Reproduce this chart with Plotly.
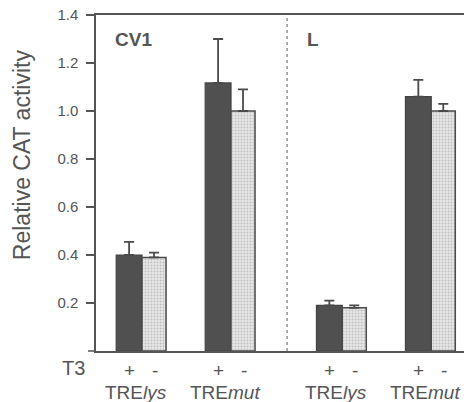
import plotly.graph_objects as go

# ---- data ----
panels = ["CV1", "L"]
constructs = ["TRE<i>lys</i>", "TRE<i>mut</i>", "TRE<i>lys</i>", "TRE<i>mut</i>"]
t3_plus = [0.40, 1.117, 0.19, 1.06]
t3_plus_err = [0.055, 0.183, 0.02, 0.07]
t3_minus = [0.39, 1.00, 0.18, 1.00]
t3_minus_err = [0.02, 0.09, 0.01, 0.03]
y_ticks = [0.2, 0.4, 0.6, 0.8, 1.0, 1.2, 1.4]
y_tick_labels = ["0.2", "0.4", "0.6", "0.8", "1.0", "1.2", "1.4"]

# ---- layout constants ----
pos = [1, 2, 3.25, 4.25]
panel_label_x = [0.046, 0.568]
bw = 0.29
grey = "#555555"
font = "Liberation Sans, Arial, sans-serif"

fig = go.Figure()
fig.add_trace(go.Bar(
    x=pos, y=t3_plus, width=[bw] * 4, offset=-bw,
    marker=dict(color="#505050", line=dict(color="#444444", width=1.2)),
    error_y=dict(type="data", array=t3_plus_err, arrayminus=[0] * 4, symmetric=False,
                 color="#4a4a4a", thickness=1.8, width=5),
    showlegend=False,
))
fig.add_trace(go.Bar(
    x=pos, y=t3_minus, width=[bw - 0.02] * 4, offset=0,
    marker=dict(color="#e6e6e6", line=dict(color="#4a4a4a", width=1.5),
                pattern=dict(shape=".", fgcolor="#9a9a9a", bgcolor="#e6e6e6", size=3, solidity=0.35)),
    error_y=dict(type="data", array=t3_minus_err, arrayminus=[0] * 4, symmetric=False,
                 color="#4a4a4a", thickness=1.8, width=5),
    showlegend=False,
))


def ann(**kw):
    d = dict(showarrow=False, xanchor="center", yanchor="middle")
    d.update(kw)
    return d


annotations = []
for p, px in zip(panels, panel_label_x):
    annotations.append(ann(x=px, y=1.296, xref="paper", yref="y", text="<b>%s</b>" % p,
                           xanchor="left", font=dict(family=font, size=19, color=grey)))
for c, x in zip(constructs, pos):
    annotations.append(ann(x=x - bw / 2, y=-0.058, xref="x", yref="paper", text="+",
                           font=dict(family=font, size=19, color=grey)))
    annotations.append(ann(x=x + bw / 2, y=-0.058, xref="x", yref="paper", text="-",
                           font=dict(family=font, size=19, color=grey)))
    annotations.append(ann(x=x - 0.065, y=-0.124, xref="x", yref="paper", text=c,
                           font=dict(family=font, size=19, color=grey)))
annotations.append(ann(x=-0.0245, y=-0.05, xref="paper", yref="paper", text="T3",
                       xanchor="right", font=dict(family=font, size=20, color=grey)))
annotations.append(ann(x=-0.201, y=0.583, xref="paper", yref="paper", text="Relative CAT activity",
                       textangle=-90, font=dict(family=font, size=23, color=grey)))

fig.update_layout(
    width=464, height=402,
    margin=dict(l=96, r=0, t=15, b=51),
    paper_bgcolor="white", plot_bgcolor="white",
    barmode="overlay",
    annotations=annotations,
    shapes=[
        dict(type="line", xref="x", yref="paper", x0=2.63, x1=2.63, y0=0, y1=1,
             line=dict(color="#777777", width=1.2, dash="dot")),
        dict(type="line", xref="paper", yref="paper", x0=-8 / 368, x1=0, y0=0, y1=0,
             line=dict(color=grey, width=1.5)),
    ],
    xaxis=dict(range=[0.483, 4.618], showticklabels=False, ticks="", showgrid=False,
               zeroline=False, showline=True, mirror=True, linecolor=grey, linewidth=1.5),
    yaxis=dict(range=[0, 1.4], tickvals=y_ticks, ticktext=y_tick_labels, ticks="outside",
               ticklen=8, tickwidth=1.5, tickcolor=grey, showgrid=False, zeroline=False,
               showline=True, linecolor=grey, linewidth=1.5, ticklabelstandoff=5,
               tickfont=dict(family=font, size=15, color=grey)),
)

fig.write_html("out.html", config={"displayModeBar": False},
               post_script="document.body.style.margin='0';document.body.style.overflow='hidden';")
